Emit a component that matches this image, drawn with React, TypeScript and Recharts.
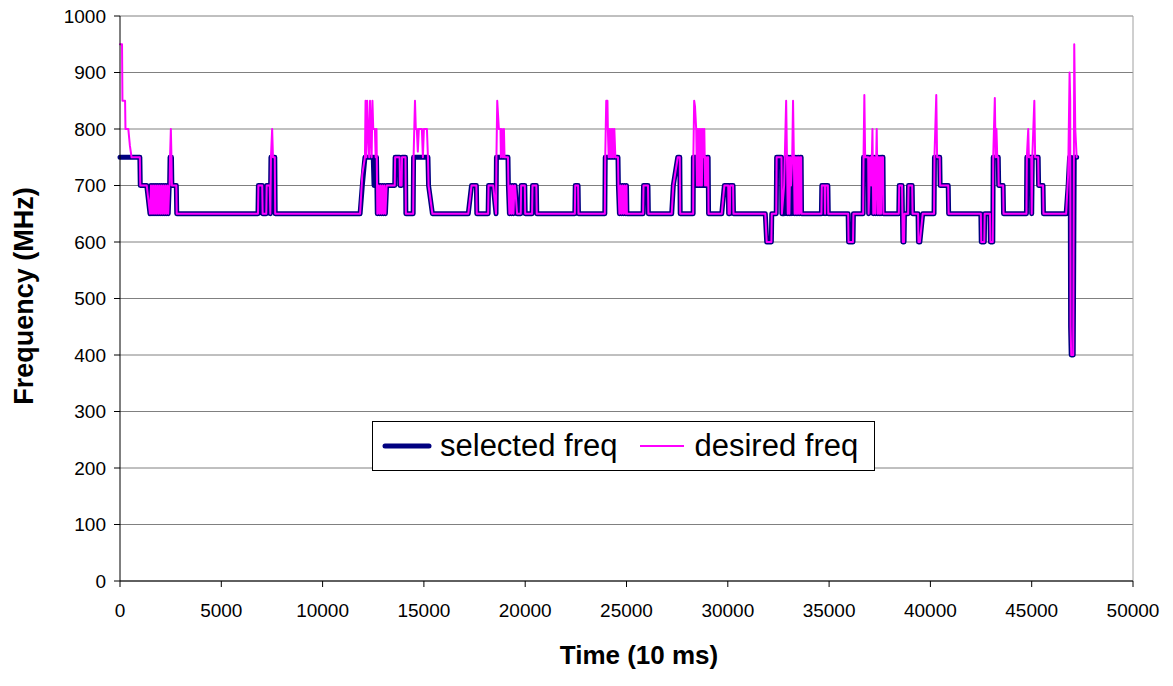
import { LineChart, Line, XAxis, YAxis, CartesianGrid, ReferenceLine } from "recharts";

// [time (10 ms), selected MHz, desired MHz]
type Row = [number, number, number];

const traceA: Row[] = [
  [0, 750, 950], [100, 750, 950], [120, 750, 850], [250, 750, 850], [270, 750, 800], [410, 750, 800],
  [490, 750, 770], [570, 750, 750], [980, 750, 750], [1000, 700, 700], [1320, 700, 700], [1480, 650, 650],
  [1530, 700, 700], [1580, 650, 650], [1630, 700, 700], [1680, 650, 650], [1730, 700, 700], [1780, 650, 650],
  [1830, 700, 700], [1880, 650, 650], [1930, 700, 700], [1980, 650, 650], [2030, 700, 700], [2080, 650, 650],
  [2130, 700, 700], [2180, 650, 650], [2230, 700, 700], [2280, 650, 650], [2330, 700, 700], [2380, 650, 650],
  [2430, 700, 700], [2450, 700, 700], [2470, 750, 750], [2510, 750, 800], [2540, 750, 750], [2560, 700, 700],
  [2780, 700, 700], [2800, 650, 650],
  [6810, 650, 650], [6830, 700, 700], [7020, 700, 700], [7040, 650, 650], [7220, 650, 650], [7240, 700, 700],
  [7390, 700, 700], [7420, 650, 650], [7450, 750, 750], [7510, 750, 800], [7550, 750, 750], [7640, 750, 750],
  [7660, 650, 650],
];

const traceB: Row[] = [
  [11850, 650, 650], [11960, 700, 720], [12090, 750, 750], [12120, 750, 850], [12160, 750, 750], [12200, 750, 850],
  [12240, 750, 800], [12300, 750, 750], [12340, 750, 850], [12380, 750, 800], [12420, 750, 750], [12460, 750, 850],
  [12500, 750, 800], [12540, 700, 800], [12580, 750, 800], [12620, 700, 750], [12660, 750, 800], [12700, 650, 650],
  [12750, 700, 700], [12800, 650, 650], [12850, 700, 700], [12900, 650, 650], [12950, 700, 700], [13000, 650, 650],
  [13050, 700, 700], [13100, 650, 650], [13160, 700, 700], [13560, 700, 700], [13580, 750, 750], [13800, 750, 750],
  [13820, 700, 700], [13900, 700, 700], [13920, 750, 750], [14090, 750, 750], [14110, 650, 650],
  [14470, 650, 650], [14490, 750, 750], [14560, 750, 850], [14600, 750, 800], [14650, 750, 800], [14700, 750, 760],
  [14750, 750, 800], [14900, 750, 800], [14950, 750, 750], [15000, 750, 800], [15150, 750, 800], [15200, 750, 750],
  [15230, 700, 700], [15420, 650, 650],
  [17190, 650, 650], [17350, 700, 700], [17590, 700, 700], [17610, 650, 650],
  [18170, 650, 650], [18190, 700, 700], [18420, 700, 700], [18560, 650, 650], [18580, 750, 750], [18620, 750, 850],
  [18700, 750, 800], [18780, 750, 800], [18800, 750, 750], [18850, 750, 800], [18900, 750, 750], [18950, 750, 800],
  [18980, 750, 750], [19150, 750, 750], [19170, 700, 700], [19220, 650, 650], [19270, 700, 700], [19320, 650, 650],
  [19370, 700, 700], [19420, 650, 650], [19470, 700, 700], [19500, 700, 700], [19600, 650, 650],
  [19780, 650, 650], [19800, 700, 700], [19980, 700, 700], [20000, 650, 650],
];

const traceC: Row[] = [
  [20340, 650, 650], [20360, 700, 700], [20550, 700, 700], [20570, 650, 650],
  [22450, 650, 650], [22470, 700, 700], [22610, 700, 700], [22630, 650, 650],
  [23930, 650, 650], [23950, 750, 750], [24000, 750, 850], [24060, 750, 850], [24080, 750, 800], [24120, 750, 750],
  [24160, 750, 800], [24200, 750, 750], [24240, 750, 800], [24280, 750, 750], [24320, 750, 800], [24360, 750, 750],
  [24400, 750, 800], [24450, 750, 750], [24580, 750, 750], [24600, 700, 700], [24650, 650, 650], [24700, 700, 700],
  [24750, 650, 650], [24800, 700, 700], [24850, 650, 650], [24900, 700, 700], [24950, 650, 650], [25000, 700, 700],
  [25020, 650, 650],
  [25820, 650, 650], [25840, 700, 700], [26060, 700, 700], [26080, 650, 650],
  [27230, 650, 650], [27310, 700, 700], [27530, 750, 750], [27630, 750, 750], [27650, 650, 650],
  [28290, 650, 650], [28300, 750, 750], [28340, 750, 850], [28380, 750, 840], [28440, 750, 800], [28480, 700, 700],
  [28520, 750, 800], [28560, 700, 700], [28600, 750, 800], [28640, 700, 700], [28680, 750, 800], [28720, 700, 700],
  [28760, 750, 800], [28800, 700, 750], [28840, 750, 800], [28880, 700, 700], [28920, 750, 750], [28960, 700, 700],
  [29000, 750, 750], [29030, 750, 750], [29050, 650, 650],
  [29700, 650, 650], [29830, 700, 700], [30020, 700, 700], [30040, 650, 650],
];

const traceD: Row[] = [
  [30100, 650, 650], [30120, 700, 700], [30260, 700, 700], [30280, 650, 650],
  [31850, 650, 650], [31920, 600, 600], [32150, 600, 600], [32170, 650, 650],
  [32390, 650, 650], [32410, 750, 750], [32650, 750, 750], [32670, 650, 650], [32780, 650, 700], [32880, 750, 850],
  [32920, 750, 750], [32960, 650, 650], [33000, 750, 750], [33040, 650, 650], [33080, 750, 750], [33120, 650, 700],
  [33180, 750, 750], [33220, 750, 850], [33260, 750, 750], [33300, 650, 650], [33340, 750, 750], [33380, 650, 650],
  [33420, 750, 750], [33460, 650, 650], [33500, 750, 750], [33540, 650, 650], [33580, 750, 750], [33620, 750, 750],
  [33640, 650, 650],
  [34620, 650, 650], [34640, 700, 700], [34780, 700, 700], [34800, 650, 650], [34820, 700, 700], [34940, 700, 700],
  [34960, 650, 650],
  [35940, 650, 650], [35960, 600, 600], [36180, 600, 600], [36200, 650, 650],
  [36680, 650, 650], [36700, 750, 750], [36740, 750, 860], [36780, 750, 750], [36930, 750, 750], [36950, 650, 650],
  [36990, 700, 700], [37030, 750, 750], [37080, 700, 700], [37140, 750, 800], [37180, 650, 650], [37230, 750, 750],
  [37280, 650, 650], [37350, 750, 800], [37400, 650, 650], [37440, 750, 750], [37480, 650, 650], [37520, 750, 750],
  [37560, 650, 650], [37600, 750, 750], [37660, 750, 750], [37680, 650, 650],
  [38440, 650, 650], [38460, 700, 700], [38600, 700, 700], [38620, 650, 650], [38640, 600, 600], [38700, 600, 600],
  [38720, 650, 650],
  [38900, 650, 650], [38920, 700, 700], [39100, 700, 700], [39120, 650, 650],
  [39390, 650, 650], [39410, 600, 600], [39480, 600, 600], [39620, 650, 650],
];

const traceE: Row[] = [
  [40180, 650, 650], [40200, 750, 750], [40290, 750, 860], [40330, 750, 750], [40460, 750, 750], [40480, 700, 700],
  [40880, 700, 700], [40900, 650, 650],
  [42490, 650, 650], [42510, 600, 600], [42660, 600, 600], [42680, 650, 650],
  [42940, 650, 650], [42960, 600, 600], [43080, 600, 600], [43100, 750, 750], [43180, 750, 855], [43220, 750, 750],
  [43260, 750, 800], [43300, 750, 750], [43350, 750, 750], [43370, 700, 700], [43590, 700, 700], [43610, 650, 650],
  [44740, 650, 650], [44760, 750, 750], [44830, 750, 800], [44860, 750, 750], [44980, 750, 750], [45000, 650, 650],
  [45030, 750, 750], [45130, 750, 850], [45170, 750, 750], [45320, 750, 750], [45340, 700, 700], [45560, 700, 700],
  [45580, 650, 650],
  [46700, 650, 650], [46800, 700, 720], [46870, 750, 900], [46900, 750, 850], [46920, 450, 450], [46950, 400, 400],
  [47050, 400, 400], [47100, 750, 950], [47150, 750, 800], [47220, 750, 750],
];

const xTicks = [0, 5000, 10000, 15000, 20000, 25000, 30000, 35000, 40000, 45000, 50000];
const yTicks = [0, 100, 200, 300, 400, 500, 600, 700, 800, 900, 1000];

const series = [
  { key: "selected", name: "selected freq", color: "#000080", width: 5 },
  { key: "desired", name: "desired freq", color: "#ff00ff", width: 2 },
];

const trace = [...traceA, ...traceB, ...traceC, ...traceD, ...traceE].map(([t, selected, desired]) => ({
  t,
  selected,
  desired,
}));

const FONT = '"Liberation Sans", Arial, sans-serif';
const tickStyle = { fill: "#000", fontSize: 19, fontFamily: FONT };

export default function App() {
  // shifted up over the body margin so the top tick label has room
  return (
    <div style={{ position: "relative", top: -8, width: 1165, height: 670, fontFamily: FONT }}>
      <LineChart width={1165} height={670} data={trace} margin={{ top: 16, right: 40, bottom: 49, left: 0 }}>
        <CartesianGrid horizontal vertical={false} stroke="#808080" />
        <XAxis
          type="number"
          dataKey="t"
          domain={[0, 50000]}
          ticks={xTicks}
          interval={0}
          height={40}
          tickSize={6}
          tickMargin={17}
          axisLine={{ stroke: "#000" }}
          tickLine={{ stroke: "#000" }}
          tick={tickStyle}
        />
        <YAxis
          type="number"
          domain={[0, 1000]}
          ticks={yTicks}
          interval={0}
          width={112}
          tickSize={6}
          tickMargin={8}
          axisLine={{ stroke: "#000" }}
          tickLine={{ stroke: "#000" }}
          tick={tickStyle}
        />
        <ReferenceLine x={50000} stroke="#a0a0a0" />
        {series.map((s) => (
          <Line
            key={s.key}
            type="linear"
            dataKey={s.key}
            name={s.name}
            stroke={s.color}
            strokeWidth={s.width}
            strokeLinejoin="round"
            strokeLinecap="round"
            dot={false}
            activeDot={false}
            isAnimationActive={false}
          />
        ))}
      </LineChart>

      <div
        style={{
          position: "absolute",
          left: 16,
          top: 296,
          transform: "translate(-50%, -50%) rotate(-90deg)",
          whiteSpace: "nowrap",
          fontWeight: "bold",
          fontSize: 27,
        }}
      >
        Frequency (MHz)
      </div>
      <div
        style={{
          position: "absolute",
          left: 631,
          top: 655,
          transform: "translate(-50%, -50%)",
          whiteSpace: "nowrap",
          fontWeight: "bold",
          fontSize: 26,
        }}
      >
        Time (10 ms)
      </div>

      <div
        style={{
          position: "absolute",
          left: 364,
          top: 421,
          width: 503,
          height: 50,
          boxSizing: "border-box",
          border: "1px solid #000",
          background: "#fff",
          display: "flex",
          alignItems: "center",
          paddingLeft: 9,
          fontSize: 31,
        }}
      >
        {series.map((s, i) => (
          <div key={s.key} style={{ display: "flex", alignItems: "center", marginLeft: i ? 19 : 0 }}>
            <svg width={50} height={10} style={{ marginRight: 8 }}>
              <line
                x1={3}
                y1={5}
                x2={47}
                y2={5}
                stroke={s.color}
                strokeWidth={s.width}
                strokeLinecap={i ? "butt" : "round"}
              />
            </svg>
            <span>{s.name}</span>
          </div>
        ))}
      </div>
    </div>
  );
}
